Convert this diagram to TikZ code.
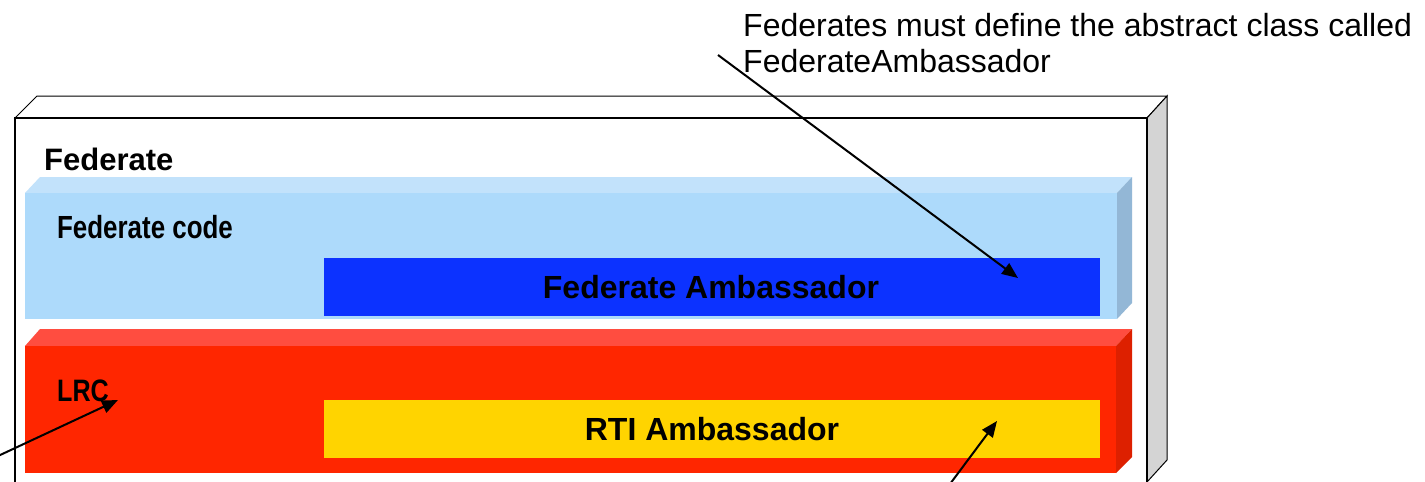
\documentclass[tikz,border=0pt]{standalone}
\usepackage{fontspec}
\setmainfont{Liberation Sans}
\usetikzlibrary{arrows.meta}

\definecolor{sidegray}{HTML}{D4D4D4}
\definecolor{codefront}{HTML}{ADDAFB}
\definecolor{codetop}{HTML}{C2E2FB}
\definecolor{codeside}{HTML}{93B7D6}
\definecolor{fedamb}{HTML}{0C32FF}
\definecolor{lrcfront}{HTML}{FF2600}
\definecolor{lrctop}{HTML}{FF4D40}
\definecolor{lrcside}{HTML}{DD2000}
\definecolor{rtiamb}{HTML}{FFD400}

\tikzset{
  x=1pt, y=-1pt,
  frontedge/.style={draw=black, line width=2.2pt},
  backedge/.style={draw=black, line width=1pt},
  boldlabel/.style={font=\bfseries\fontsize{32}{32}\selectfont, inner sep=0pt, anchor=base},
  narrowlabel/.style={font=\bfseries\fontsize{32}{32}\selectfont, inner sep=0pt, anchor=base west, xscale=0.81},
  notetext/.style={font=\fontsize{32}{36}\selectfont, inner sep=0pt, anchor=base west, align=left},
  pointer/.style={draw=black, line width=2pt, -{Triangle[length=16pt,width=13pt]}},
}

\begin{document}
\begin{tikzpicture}
\useasboundingbox (0,0) rectangle (1425,482);
\begin{scope}
\clip (0,0) rectangle (1425,482);

% Federate box: top face, side face, front face
\filldraw[fill=white, backedge] (15,118) -- (37,96) -- (1167,96) -- (1147,118) -- cycle;
\filldraw[fill=sidegray, backedge] (1147,118) -- (1167,96) -- (1167,460) -- (1147,482) -- cycle;
\path[fill=white, frontedge] (15,118) rectangle (1147,483);

% Federate code block
\fill[codetop] (25,193) -- (40,177) -- (1132,177) -- (1117,193) -- cycle;
\fill[codeside] (1117,193) -- (1132,177) -- (1132,303) -- (1117,319) -- cycle;
\fill[codefront] (25,193) rectangle (1117,319);
\node[fill=fedamb, minimum width=776pt, minimum height=58pt, inner sep=0pt, anchor=north west] (fedambbox) at (324,258) {};

% LRC block
\fill[lrctop] (25,346) -- (40,329) -- (1132,329) -- (1116,346) -- cycle;
\fill[lrcside] (1116,346) -- (1132,329) -- (1132,457) -- (1116,473) -- cycle;
\fill[lrcfront] (25,346) rectangle (1116,473);
\node[fill=rtiamb, minimum width=776pt, minimum height=58pt, inner sep=0pt, anchor=north west] (rtiambbox) at (324,400) {};
\end{scope}

% Labels
\node[boldlabel, anchor=base west, font=\bfseries\fontsize{31}{31}\selectfont] (federate) at (44,170) {Federate};
\node[narrowlabel] (fedcode) at (57,238) {Federate code};
\node[narrowlabel, font=\bfseries\fontsize{31}{31}\selectfont] (lrc) at (57,401) {LRC};
\node[boldlabel] (fedambtext) at (711,298) {Federate Ambassador};
\node[boldlabel] (rtiambtext) at (712,440) {RTI Ambassador};
\node[notetext] (note) at (743,72) {Federates must define the abstract class called\\FederateAmbassador};

% Pointer ends
\coordinate (noteTail) at (718,55);
\coordinate (fedambTip) at (1018,278);
\coordinate (lrcTail) at (-2,456);
\coordinate (lrcTip) at (118,400);
\coordinate (rtiTail) at (950,484);
\coordinate (rtiTip) at (997,421);

% Pointers
\draw[pointer] (noteTail) -- (fedambTip);
\draw[pointer] (lrcTail) -- (lrcTip);
\draw[pointer] (rtiTail) -- (rtiTip);
\end{tikzpicture}
\end{document}
